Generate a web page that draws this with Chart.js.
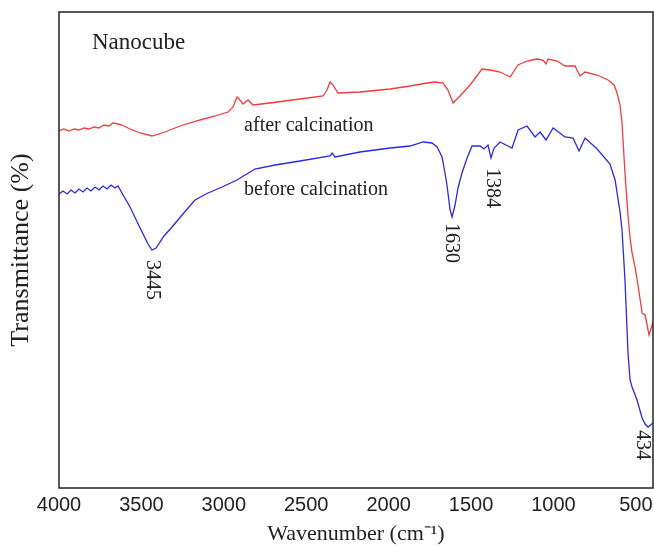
<!DOCTYPE html>
<html>
<head>
<meta charset="utf-8">
<script src="https://cdn.jsdelivr.net/npm/chart.js@4/dist/chart.umd.min.js"></script>
<style>
  html, body { margin: 0; padding: 0; background: #fff; }
  #wrap { width: 654px; height: 547px; position: relative; }
</style>
</head>
<body>
<div id="wrap"><canvas id="ftir"></canvas></div>
<script>
// FTIR spectra of the nanocube sample (arbitrary transmittance units)
const X_TICKS = [4000, 3500, 3000, 2500, 2000, 1500, 1000, 500];

const WN_AFTER = [4000, 3970, 3939, 3909, 3879, 3848, 3818, 3788, 3757, 3727, 3697, 3672, 3642, 3618,
  3569, 3508, 3436, 3357, 3266, 3144, 3053, 2974, 2944, 2920, 2902, 2883, 2853, 2823, 2720, 2538,
  2398, 2374, 2356, 2338, 2307, 2174, 1991, 1870, 1767, 1718, 1670, 1640, 1609, 1567, 1506, 1433,
  1385, 1324, 1263, 1215, 1160, 1100, 1063, 1045, 1033, 978, 930, 869, 839, 808, 735, 669, 632,
  614, 596, 584, 566, 547, 535, 523, 505, 487, 462, 444, 420, 396];
const T_AFTER = [357, 359, 357, 359, 358, 360, 359, 361, 360, 363, 362, 365, 364, 363,
  359, 355, 352, 356, 362, 368, 372, 376, 381, 391, 388, 384, 388, 383, 385, 389,
  392, 398, 406, 403, 395, 396, 399, 402, 405, 406, 405, 398, 385, 392, 403, 419,
  418, 416, 411, 423, 427, 429, 428, 424, 429, 427, 422, 422, 412, 416, 413, 408, 403,
  395, 383, 365, 315, 271, 250, 235, 221, 203, 175, 173, 153, 166];

const WN_BEFORE = [4000, 3976, 3951, 3927, 3903, 3879, 3854, 3830, 3806, 3782, 3757, 3733, 3709, 3684,
  3660, 3642, 3618, 3569, 3508, 3460, 3436, 3411, 3363, 3314, 3248, 3175, 3096, 3011, 2920, 2811,
  2689, 2538, 2356, 2343, 2325, 2174, 1991, 1870, 1791, 1737, 1706, 1676, 1658, 1646, 1627, 1615,
  1597, 1579, 1555, 1524, 1494, 1445, 1421, 1397, 1379, 1360, 1324, 1288, 1251, 1215, 1160, 1112,
  1081, 1045, 1002, 930, 881, 845, 808, 735, 657, 626, 596, 584, 566, 547, 535, 523, 493, 462,
  444, 426, 396];
const T_BEFORE = [294, 297, 294, 298, 295, 299, 296, 300, 297, 301, 298, 302, 299, 303,
  300, 302, 295, 281, 260, 244, 238, 240, 252, 261, 274, 288, 295, 301, 308, 319,
  323, 327, 332, 335, 331, 336, 340, 342, 346, 345, 341, 331, 315, 303, 278, 271,
  283, 300, 315, 330, 342, 342, 339, 343, 330, 340, 346, 343, 340, 358, 362, 351,
  356, 348, 360, 351, 350, 337, 350, 339, 324, 308, 276, 258, 208, 133, 108, 101, 88, 70,
  64, 61, 65];

// peak labels: text, wavenumber the label sits at, and where the rotated text starts
const PEAK_TEXT = ["3445", "1630", "1384", "434"];
const PEAK_LABEL_WN = [3445, 1630, 1384, 475];
const PEAK_T = [228, 265, 320, 58];

const NOTE_TEXT = ["Nanocube", "after calcination", "before calcination"];
const NOTE_WN = [3800, 2877, 2877];
const NOTE_T = [445, 362, 298];

const toXY = (xs, ys) => xs.map((x, i) => ({ x, y: ys[i] }));

const SERIF = "'Liberation Serif', 'Times New Roman', serif";
const SANS = "'Liberation Sans', Arial, sans-serif";
const INK = "#222";

const annotate = {
  id: "annotate",
  afterDatasetsDraw(chart) {
    const { ctx, chartArea: a, scales: { x, y } } = chart;
    ctx.save();
    // frame
    ctx.strokeStyle = INK;
    ctx.lineWidth = 1.5;
    ctx.strokeRect(a.left, a.top, a.right - a.left, a.bottom - a.top);

    ctx.fillStyle = INK;
    ctx.textBaseline = "middle";
    ctx.textAlign = "left";
    NOTE_TEXT.forEach((t, i) => {
      ctx.font = (i === 0 ? "23px " : "20px ") + SERIF;
      ctx.fillText(t, x.getPixelForValue(NOTE_WN[i]), y.getPixelForValue(NOTE_T[i]));
    });

    ctx.font = "20px " + SERIF;
    PEAK_TEXT.forEach((t, i) => {
      ctx.save();
      ctx.translate(x.getPixelForValue(PEAK_LABEL_WN[i]) + 2, y.getPixelForValue(PEAK_T[i]));
      ctx.rotate(Math.PI / 2);
      ctx.fillText(t, 0, 0);
      ctx.restore();
    });
    ctx.restore();
  },
};

new Chart(document.getElementById("ftir"), {
  type: "line",
  data: {
    datasets: [
      { label: "after calcination", data: toXY(WN_AFTER, T_AFTER), borderColor: "#f03c3c", borderWidth: 1.3, pointRadius: 0, tension: 0 },
      { label: "before calcination", data: toXY(WN_BEFORE, T_BEFORE), borderColor: "#2a2ae0", borderWidth: 1.3, pointRadius: 0, tension: 0 },
    ],
  },
  options: {
    responsive: true,
    maintainAspectRatio: false,
    animation: false,
    devicePixelRatio: 1,
    layout: { padding: { top: 12, right: 1, left: 0, bottom: 0 } },
    plugins: { legend: { display: false }, tooltip: { enabled: false } },
    scales: {
      x: {
        type: "linear",
        reverse: true,
        min: 396,
        max: 4000,
        afterBuildTicks: (s) => { s.ticks = X_TICKS.map((v) => ({ value: v })); },
        afterFit: (s) => { s.height = 59; s.paddingLeft = 0; s.paddingRight = 0; },
        grid: { display: false, drawTicks: false },
        border: { display: false },
        ticks: { color: INK, padding: 5, maxRotation: 0, font: { family: SANS, size: 20 }, callback: (v) => String(v) },
        title: {
          display: true,
          text: "Wavenumber (cm\u207B\u00B9)",
          color: INK,
          font: { family: SERIF, size: 22 },
          padding: { top: 0, bottom: 0 },
        },
      },
      y: {
        min: 0,
        max: 476,
        afterFit: (s) => { s.width = 59; },
        grid: { display: false, drawTicks: false },
        border: { display: false },
        ticks: { display: false },
        title: {
          display: true,
          text: "Transmittance (%)",
          color: INK,
          font: { family: SERIF, size: 26 },
          padding: { top: 6, bottom: 0 },
        },
      },
    },
  },
  plugins: [annotate],
});
</script>
</body>
</html>
